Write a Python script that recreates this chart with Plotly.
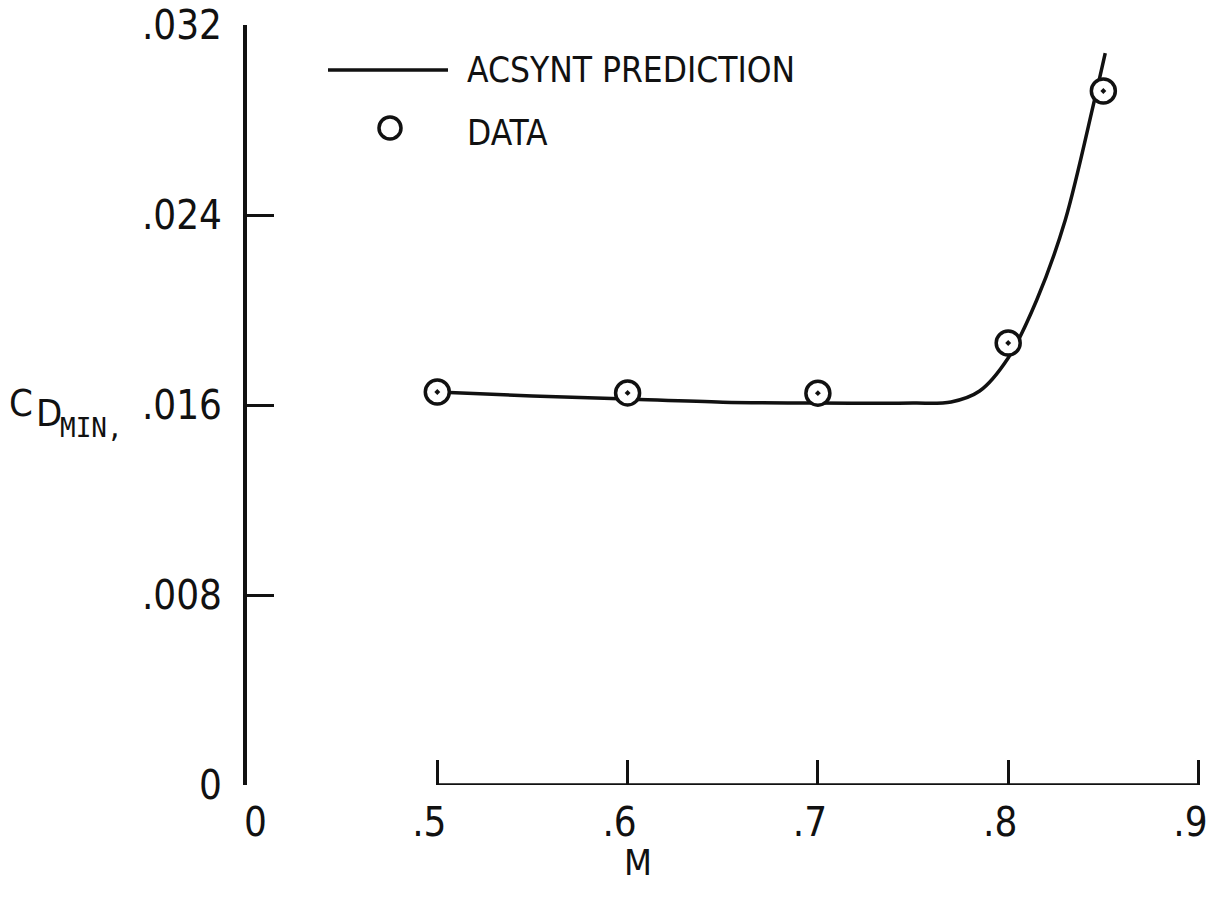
import plotly.graph_objects as go

# Mach number vs minimum drag coefficient
mach_data = [0.5, 0.6, 0.7, 0.8, 0.85]
cd_data = [0.01655, 0.01651, 0.01650, 0.01861, 0.02922]

# ACSYNT prediction curve
mach_pred = [0.5, 0.55, 0.6, 0.65, 0.7, 0.75, 0.77, 0.785, 0.8,
             0.815, 0.83, 0.845, 0.851]
cd_pred = [0.01655, 0.01638, 0.01625, 0.01612, 0.01608, 0.01608, 0.01613,
           0.01659, 0.01798, 0.02042, 0.02379, 0.02872, 0.03082]

# axis ticks (x axis is broken between 0 and .5; the origin is labelled "0")
x_origin = 0.4
x_origin_label = "0"
x_tickvals = [0.5, 0.6, 0.7, 0.8, 0.9]
x_ticktext = [".5", ".6", ".7", ".8", ".9"]
y_tickvals = [0, 0.008, 0.016, 0.024, 0.032]
y_ticktext = ["0", ".008", ".016", ".024", ".032"]

FONT = "Liberation Sans Narrow, DejaVu Sans Condensed, sans-serif"
INK = "#111111"

fig = go.Figure()

fig.add_trace(go.Scatter(
    x=mach_pred, y=cd_pred, mode="lines",
    line=dict(color=INK, width=3.5, shape="spline", smoothing=0.9),
    showlegend=False, hoverinfo="skip",
))

fig.add_trace(go.Scatter(
    x=mach_data, y=cd_data, mode="markers",
    marker=dict(symbol="circle-dot", size=24, color="white",
                line=dict(color=INK, width=3.5)),
    showlegend=False,
))

W, H = 1212, 905
L, R, T, B = 247, 4, 25, 120
pw, ph = W - L - R, H - T - B


def px(x):
    return (x - L) / pw


def py(y):
    return (H - B - y) / ph


# broken x axis line from .5 to .9
fig.add_shape(type="line", xref="x", yref="y",
              x0=x_tickvals[0], x1=x_tickvals[-1], y0=0, y1=0,
              line=dict(color=INK, width=3.5))

# legend: line sample and open circle
fig.add_shape(type="line", xref="paper", yref="paper",
              x0=px(328), x1=px(448), y0=py(70), y1=py(70),
              line=dict(color=INK, width=3.5))
fig.add_shape(type="circle", xref="paper", yref="paper",
              xsizemode="pixel", ysizemode="pixel",
              xanchor=px(390), yanchor=py(128),
              x0=-11, x1=11, y0=-11, y1=11,
              line=dict(color=INK, width=3.5), fillcolor="white")

leg_font = dict(family=FONT, size=35, color=INK)
fig.add_annotation(text="ACSYNT PREDICTION", xref="paper", yref="paper",
                   x=px(465), y=py(70), xanchor="left", yanchor="middle",
                   showarrow=False, font=leg_font)
fig.add_annotation(text="DATA", xref="paper", yref="paper",
                   x=px(465), y=py(133), xanchor="left", yanchor="middle",
                   showarrow=False, font=leg_font)

# origin label of the x axis, just right of the y axis
fig.add_annotation(text=x_origin_label, xref="x", yref="paper",
                   x=x_origin, y=py(822), xshift=8,
                   xanchor="center", yanchor="middle", showarrow=False,
                   font=dict(family=FONT, size=40, color=INK))

# axis titles
title_font = dict(family=FONT, size=38, color=INK)
fig.add_annotation(text="M", xref="paper", yref="paper",
                   x=px(638), y=py(862), xanchor="center", yanchor="middle",
                   showarrow=False, font=dict(family=FONT, size=36, color=INK))
fig.add_annotation(text="C", xref="paper", yref="paper",
                   x=px(35), y=py(403), xanchor="right", yanchor="middle",
                   showarrow=False, font=title_font)
fig.add_annotation(text="D", xref="paper", yref="paper",
                   x=px(34), y=py(413), xanchor="left", yanchor="middle",
                   showarrow=False, font=title_font)
fig.add_annotation(text="MIN,", xref="paper", yref="paper",
                   x=px(58), y=py(428), xanchor="left", yanchor="middle",
                   showarrow=False,
                   font=dict(family="DejaVu Sans Mono", size=26, color=INK))

fig.update_xaxes(
    range=[x_origin, 0.905], tickvals=x_tickvals, ticktext=x_ticktext,
    ticks="inside", ticklen=25, tickwidth=3, tickcolor=INK,
    showline=False, showgrid=False, zeroline=False, automargin=False,
    tickfont=dict(family=FONT, size=40, color=INK),
    ticklabelstandoff=10, ticklabelshift=-8, ticklabeloverflow="allow",
)
fig.update_yaxes(
    range=[0, 0.032], tickvals=y_tickvals, ticktext=y_ticktext,
    ticks="inside", ticklen=27, tickwidth=3, tickcolor=INK,
    showline=True, linewidth=4, linecolor=INK,
    showgrid=False, zeroline=False, automargin=False,
    tickfont=dict(family=FONT, size=40, color=INK),
    ticklabelstandoff=13,
)

fig.update_layout(
    width=W, height=H,
    margin=dict(l=L, r=R, t=T, b=B),
    paper_bgcolor="white", plot_bgcolor="white",
    showlegend=False,
)

fig.write_html("out.html")
